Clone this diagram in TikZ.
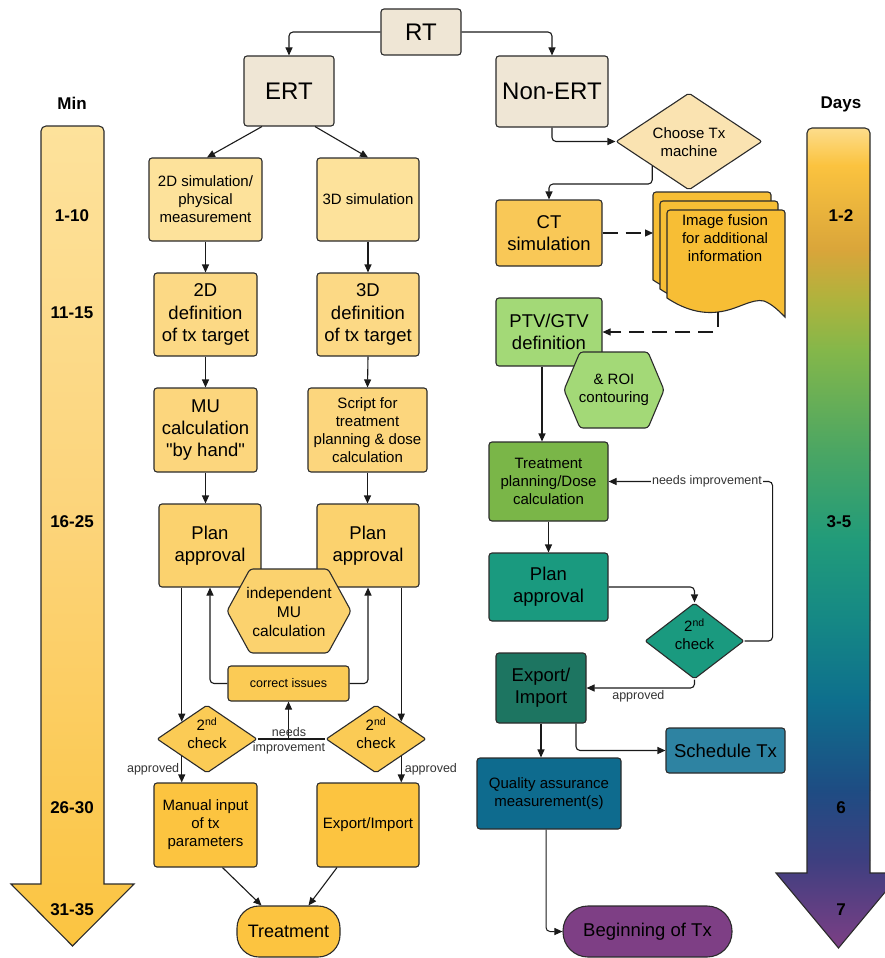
\documentclass[tikz,border=0pt]{standalone}
\usepackage{fontspec}
\setmainfont{Liberation Sans}
\newfontfamily\plainq{Liberation Sans}[Ligatures=TeXOff]
\usetikzlibrary{arrows.meta,shapes.geometric,calc}
\definecolor{bord}{HTML}{2B2B2B}
\definecolor{lnc}{HTML}{1A1A1A}
\definecolor{beige}{HTML}{EFE6D5}
\definecolor{ya}{HTML}{FDE29B}
\definecolor{yb}{HTML}{FCD985}
\definecolor{yc}{HTML}{FCD67D}
\definecolor{yd}{HTML}{FBD26E}
\definecolor{ye}{HTML}{FBCB55}
\definecolor{yf}{HTML}{FCC440}
\definecolor{choosec}{HTML}{FAE3B1}
\definecolor{ctc}{HTML}{F9C857}
\definecolor{fusc}{HTML}{F7BE35}
\definecolor{ptvc}{HTML}{A3D977}
\definecolor{tpc}{HTML}{7AB648}
\definecolor{tealc}{HTML}{1A9A7F}
\definecolor{expc}{HTML}{1D7561}
\definecolor{schc}{HTML}{2E83A2}
\definecolor{qac}{HTML}{0E6B8E}
\definecolor{begc}{HTML}{7E3F85}
\definecolor{lblc}{HTML}{333333}
\definecolor{g1}{HTML}{FDE29B}
\definecolor{g2}{HTML}{FBC33F}
\definecolor{g3}{HTML}{D9A53A}
\definecolor{g4}{HTML}{AEB33D}
\definecolor{g5}{HTML}{84B74A}
\definecolor{g6}{HTML}{4BA663}
\definecolor{g7}{HTML}{219B7A}
\definecolor{g8}{HTML}{158885}
\definecolor{g9}{HTML}{0E6F8D}
\definecolor{g10}{HTML}{1E4C83}
\definecolor{g11}{HTML}{3E3F80}
\definecolor{g12}{HTML}{7E3F85}
\definecolor{la}{HTML}{FDE29C}
\definecolor{lb}{HTML}{FCD47A}
\definecolor{lc}{HTML}{FBC440}
\newcommand\fsz[1]{\fontsize{#1pt}{\dimexpr #1pt*12/10\relax}\selectfont}
\begin{document}
\begin{tikzpicture}[x=1pt,y=-1pt,
  box/.style={draw=bord, line width=1.1pt, rounded corners=3pt, align=center, inner sep=0pt, text=black},
  dia/.style={diamond, draw=bord, line width=1.1pt, rounded corners=2pt, inner sep=0pt},
  hexa/.style={draw=bord, line width=1.1pt, rounded corners=3pt},
  conn/.style={draw=lnc, line width=1.1pt, rounded corners=4pt, -{Triangle[length=8pt,width=7pt]}},
  plainc/.style={draw=lnc, line width=1.1pt, rounded corners=4pt},
  dashc/.style={conn, dash pattern=on 15pt off 8pt},
  lbl/.style={font=\fsz{12.5}, text=lblc, inner sep=1pt},
  txt/.style={align=center, inner sep=0pt},
  tick/.style={font=\bfseries\fsz{17}, inner sep=0pt}]
\useasboundingbox (0,0) rectangle (885,958);

% ---------- left time arrow ----------
\begin{scope}
\clip (72.5,946) -- (11,884) -- (41,884) -- (41,300) [rounded corners=5pt] -- (41,126) -- (104,126) -- (104,300) [sharp corners] -- (104,884) -- (134,884) -- cycle;
\shade[top color=la, bottom color=lb] (0,120) rectangle (150,520);
\shade[top color=lb, bottom color=lc] (0,519.5) rectangle (150,950);
\end{scope}
\draw[draw=bord, line width=1.1pt] (72.5,946) -- (11,884) -- (41,884) -- (41,300) [rounded corners=5pt] -- (41,126) -- (104,126) -- (104,300) [sharp corners] -- (104,884) -- (134,884) -- cycle;
\node[tick] (minlbl) at (72,103) {Min};
\node[tick] (m1) at (72,216) {1-10};
\node[tick] (m2) at (72,313) {11-15};
\node[tick] (m3) at (72,522) {16-25};
\node[tick] (m4) at (72,808) {26-30};
\node[tick] (m5) at (72,910) {31-35};

% ---------- right time arrow ----------
\begin{scope}
\clip (838.5,948) -- (776,873) -- (807,873) -- (807,300) [rounded corners=5pt] -- (807,128) -- (870,128) -- (870,300) [sharp corners] -- (870,873) -- (901,873) -- cycle;
\shade[top color=g1, bottom color=g2] (760,120) rectangle (910,165.5);
\shade[top color=g2, bottom color=g3] (760,165) rectangle (910,250.5);
\shade[top color=g3, bottom color=g4] (760,250) rectangle (910,300.5);
\shade[top color=g4, bottom color=g5] (760,300) rectangle (910,350.5);
\shade[top color=g5, bottom color=g6] (760,350) rectangle (910,450.5);
\shade[top color=g6, bottom color=g7] (760,450) rectangle (910,540.5);
\shade[top color=g7, bottom color=g8] (760,540) rectangle (910,620.5);
\shade[top color=g8, bottom color=g9] (760,620) rectangle (910,700.5);
\shade[top color=g9, bottom color=g10] (760,700) rectangle (910,790.5);
\shade[top color=g10, bottom color=g11] (760,790) rectangle (910,860.5);
\shade[top color=g11, bottom color=g12] (760,860) rectangle (910,950);
\end{scope}
\draw[draw=bord, line width=1.1pt] (838.5,948) -- (776,873) -- (807,873) -- (807,300) [rounded corners=5pt] -- (807,128) -- (870,128) -- (870,300) [sharp corners] -- (870,873) -- (901,873) -- cycle;
\node[tick] (daylbl) at (841,104) {Days};
\node[tick] (d1) at (841,216) {1-2};
\node[tick] (d2) at (839,522) {3-5};
\node[tick] (d3) at (841,808) {6};
\node[tick] (d4) at (841,910) {7};

% ---------- top ----------
\node[box, fill=beige, minimum width=80pt, minimum height=46pt, font=\fsz{24}] (rt) at (421,32) {RT};
\node[box, fill=beige, minimum width=90pt, minimum height=70pt, font=\fsz{24}] (ert) at (289,91) {ERT};
\node[box, fill=beige, minimum width=112pt, minimum height=71pt, font=\fsz{24}] (nonert) at (552,91.5) {Non-ERT};

% ---------- ERT column ----------
\node[box, fill=ya, minimum width=113pt, minimum height=83pt, font=\fsz{15}] (sim2d) at (205.5,199.5) {2D simulation/\\physical\\measurement};
\node[box, fill=ya, minimum width=102pt, minimum height=83pt, font=\fsz{15}] (sim3d) at (368,199.5) {3D simulation};
\node[box, fill=yb, minimum width=103pt, minimum height=83pt, font=\fsz{18.5}] (def2d) at (205.5,314.5) {2D\\definition\\of tx target};
\node[box, fill=yb, minimum width=102pt, minimum height=83pt, font=\fsz{18.5}] (def3d) at (368,314.5) {3D\\definition\\of tx target};
\node[box, fill=yc, minimum width=103pt, minimum height=84pt, font=\fsz{18.5}] (mu) at (205.5,430) {MU\\calculation\\{\plainq"}by hand{\plainq"}};
\node[box, fill=yc, minimum width=119pt, minimum height=84pt, font=\fsz{15}] (script) at (367.5,430) {Script for\\treatment\\planning \& dose\\calculation};
\node[box, fill=yd, minimum width=102pt, minimum height=83pt, font=\fsz{18.5}] (pa1) at (210,545.5) {Plan\\approval};
\node[box, fill=yd, minimum width=102pt, minimum height=83pt, font=\fsz{18.5}] (pa2) at (368,545.5) {Plan\\approval};
\filldraw[hexa, fill=yd] (227,611) -- (250,569) -- (328,569) -- (351,611) -- (328,653) -- (250,653) -- cycle;
\node[txt, font=\fsz{15.5}] (indmu) at (289,612) {independent\\MU\\calculation};
\node[box, fill=ye, minimum width=121pt, minimum height=35pt, font=\fsz{12.5}] (corr) at (288.5,683.5) {correct issues};
\node[dia, fill=ye, minimum width=100pt, minimum height=68pt] (chk1) at (207,739) {};
\node[txt, font=\fsz{15}] (chk1t) at (207,733) {2\textsuperscript{nd}\\check};
\node[dia, fill=ye, minimum width=100pt, minimum height=68pt] (chk2) at (376,739) {};
\node[txt, font=\fsz{15}] (chk2t) at (376,733) {2\textsuperscript{nd}\\check};
\node[box, fill=yf, minimum width=103pt, minimum height=84pt, font=\fsz{15}] (manual) at (205.5,825) {Manual input\\of tx\\parameters};
\node[box, fill=yf, minimum width=102pt, minimum height=84pt, font=\fsz{15}] (exp2) at (368,825) {Export/Import};
\node[box, fill=yf, rounded corners=22pt, minimum width=103pt, minimum height=51pt, font=\fsz{18}] (treat) at (288.5,931.5) {Treatment};

% ---------- Non-ERT column ----------
\node[dia, fill=choosec, minimum width=146pt, minimum height=97pt] (choose) at (689,141.5) {};
\node[txt, font=\fsz{15}] (chooset) at (689,142) {Choose Tx\\machine};
\node[box, fill=ctc, minimum width=106pt, minimum height=66pt, font=\fsz{18.5}] (ct) at (549,233) {CT\\simulation};
\foreach \dx/\dy in {-14/-18,-7/-9,0/0}{
  \filldraw[draw=bord, line width=1.1pt, fill=fusc, shift={(667+\dx,210+\dy)}]
    (0,60) [rounded corners=3pt] -- (0,0) -- (118,0) -- (118,60) [sharp corners] -- (118,107)
    .. controls (112,101) and (105,94) .. (97,91)
    .. controls (85,88) and (70,100) .. (51,102)
    .. controls (35,104) and (18,100) .. (0,88) -- cycle;
}
\node[txt, font=\fsz{15}] (fusion) at (725,238) {Image fusion\\for additional\\information};
\coordinate (fusL) at (653,233);
\coordinate (fusB) at (718,312);
\node[box, fill=ptvc, minimum width=106pt, minimum height=68pt, font=\fsz{18.5}] (ptv) at (549,332) {PTV/GTV\\definition};
\filldraw[hexa, fill=ptvc] (564,390) -- (580,352) -- (648,352) -- (664,390) -- (648,428) -- (580,428) -- cycle;
\node[txt, font=\fsz{15}] (roi) at (614,390) {\& ROI\\contouring};
\node[box, fill=tpc, minimum width=119pt, minimum height=79pt, font=\fsz{15}] (tp) at (548.5,481.5) {Treatment\\planning/Dose\\calculation};
\node[box, fill=tealc, minimum width=119pt, minimum height=68pt, font=\fsz{18.5}] (pa3) at (548.5,587) {Plan\\approval};
\node[dia, fill=tealc, minimum width=99pt, minimum height=76pt] (chk3) at (694.5,641) {};
\node[txt, font=\fsz{15}] (chk3t) at (694.5,634) {2\textsuperscript{nd}\\check};
\node[box, fill=expc, minimum width=90pt, minimum height=70pt, font=\fsz{18.5}] (exp3) at (541,688) {Export/\\Import};
\node[box, fill=schc, minimum width=119pt, minimum height=45pt, font=\fsz{18.5}] (sched) at (725.5,750.5) {Schedule Tx};
\node[box, fill=qac, minimum width=144pt, minimum height=71pt, font=\fsz{15}] (qa) at (549,793.5) {Quality assurance\\measurement(s)};
\node[box, fill=begc, rounded corners=25pt, minimum width=169pt, minimum height=51pt, font=\fsz{18.5}] (begin) at (647.5,931.5) {Beginning of Tx};

% ---------- connectors: top ----------
\draw[conn] (rt.west) -| (ert.north);
\draw[conn] (rt.east) -| (nonert.north);
\draw[conn] ([xshift=-27pt]ert.south) -- ([xshift=1.5pt]sim2d.north);
\draw[conn] ([xshift=26pt]ert.south) -- (sim3d.north);

% ---------- connectors: ERT ----------
\draw[conn] (sim2d.south) -- (def2d.north);
\draw[conn] (def2d.south) -- (mu.north);
\draw[conn] (mu.south) -- (mu.south |- pa1.north);
\draw[conn] (sim3d.south) -- (def3d.north);
\draw[conn] (def3d.south) -- (script.north);
\draw[conn] (script.south) -- (script.south |- pa2.north);
\draw[conn] (pa1.south -| chk1.north west) -- (chk1.north west);
\draw[conn] (pa2.south -| chk2.north east) -- (chk2.north east);
\draw[conn] (corr.west) -| (pa1.south);
\draw[conn] (corr.east) -| (pa2.south);
\draw[plainc] (chk1.east) -- (chk2.west);
\draw[conn] (chk1.east -| corr.south) -- (corr.south);
\node[lbl] (ni1a) at (289,732) {needs};
\node[lbl] (ni1b) at (289,748) {improvement};
\draw[conn] (chk1.south west) -- (chk1.south west |- manual.north) node[lbl, pos=0.5, left=1pt] (ap1) {approved};
\draw[conn] (chk2.south east) -- (chk2.south east |- exp2.north) node[lbl, pos=0.5, right=2pt] (ap2) {approved};
\draw[conn] ([xshift=17pt]manual.south) -- ([xshift=-27pt]treat.north);
\draw[conn] ([xshift=-31pt]exp2.south) -- ([xshift=20pt]treat.north);

% ---------- connectors: Non-ERT ----------
\draw[conn] (nonert.south) |- (choose.west);
\draw[conn] (choose.south west) -- ++(0,18) -| (ct.north);
\draw[dashc] (ct.east) -- (fusL);
\draw[dashc] (fusB) |- (ptv.east);
\draw[conn] ([xshift=-7pt]ptv.south) -- ([xshift=-6.5pt]tp.north);
\draw[conn] (tp.south) -- (pa3.north);
\draw[conn] (pa3.east) -| (chk3.north);
\draw[conn] (chk3.east) -- ++(28,0) |- (tp.east) node[lbl, fill=white, pos=0.7] (ni3) {needs improvement};
\draw[conn] (chk3.south) |- (exp3.east) node[lbl, pos=0.76, below=1pt] (ap3) {approved};
\draw[conn] (exp3.south) -- (exp3.south |- qa.north);
\draw[conn] ([xshift=35pt]exp3.south) |- (sched.west);
\draw[conn, line width=1pt] ([xshift=-3pt]qa.south) |- (begin.west);
\end{tikzpicture}
\end{document}
